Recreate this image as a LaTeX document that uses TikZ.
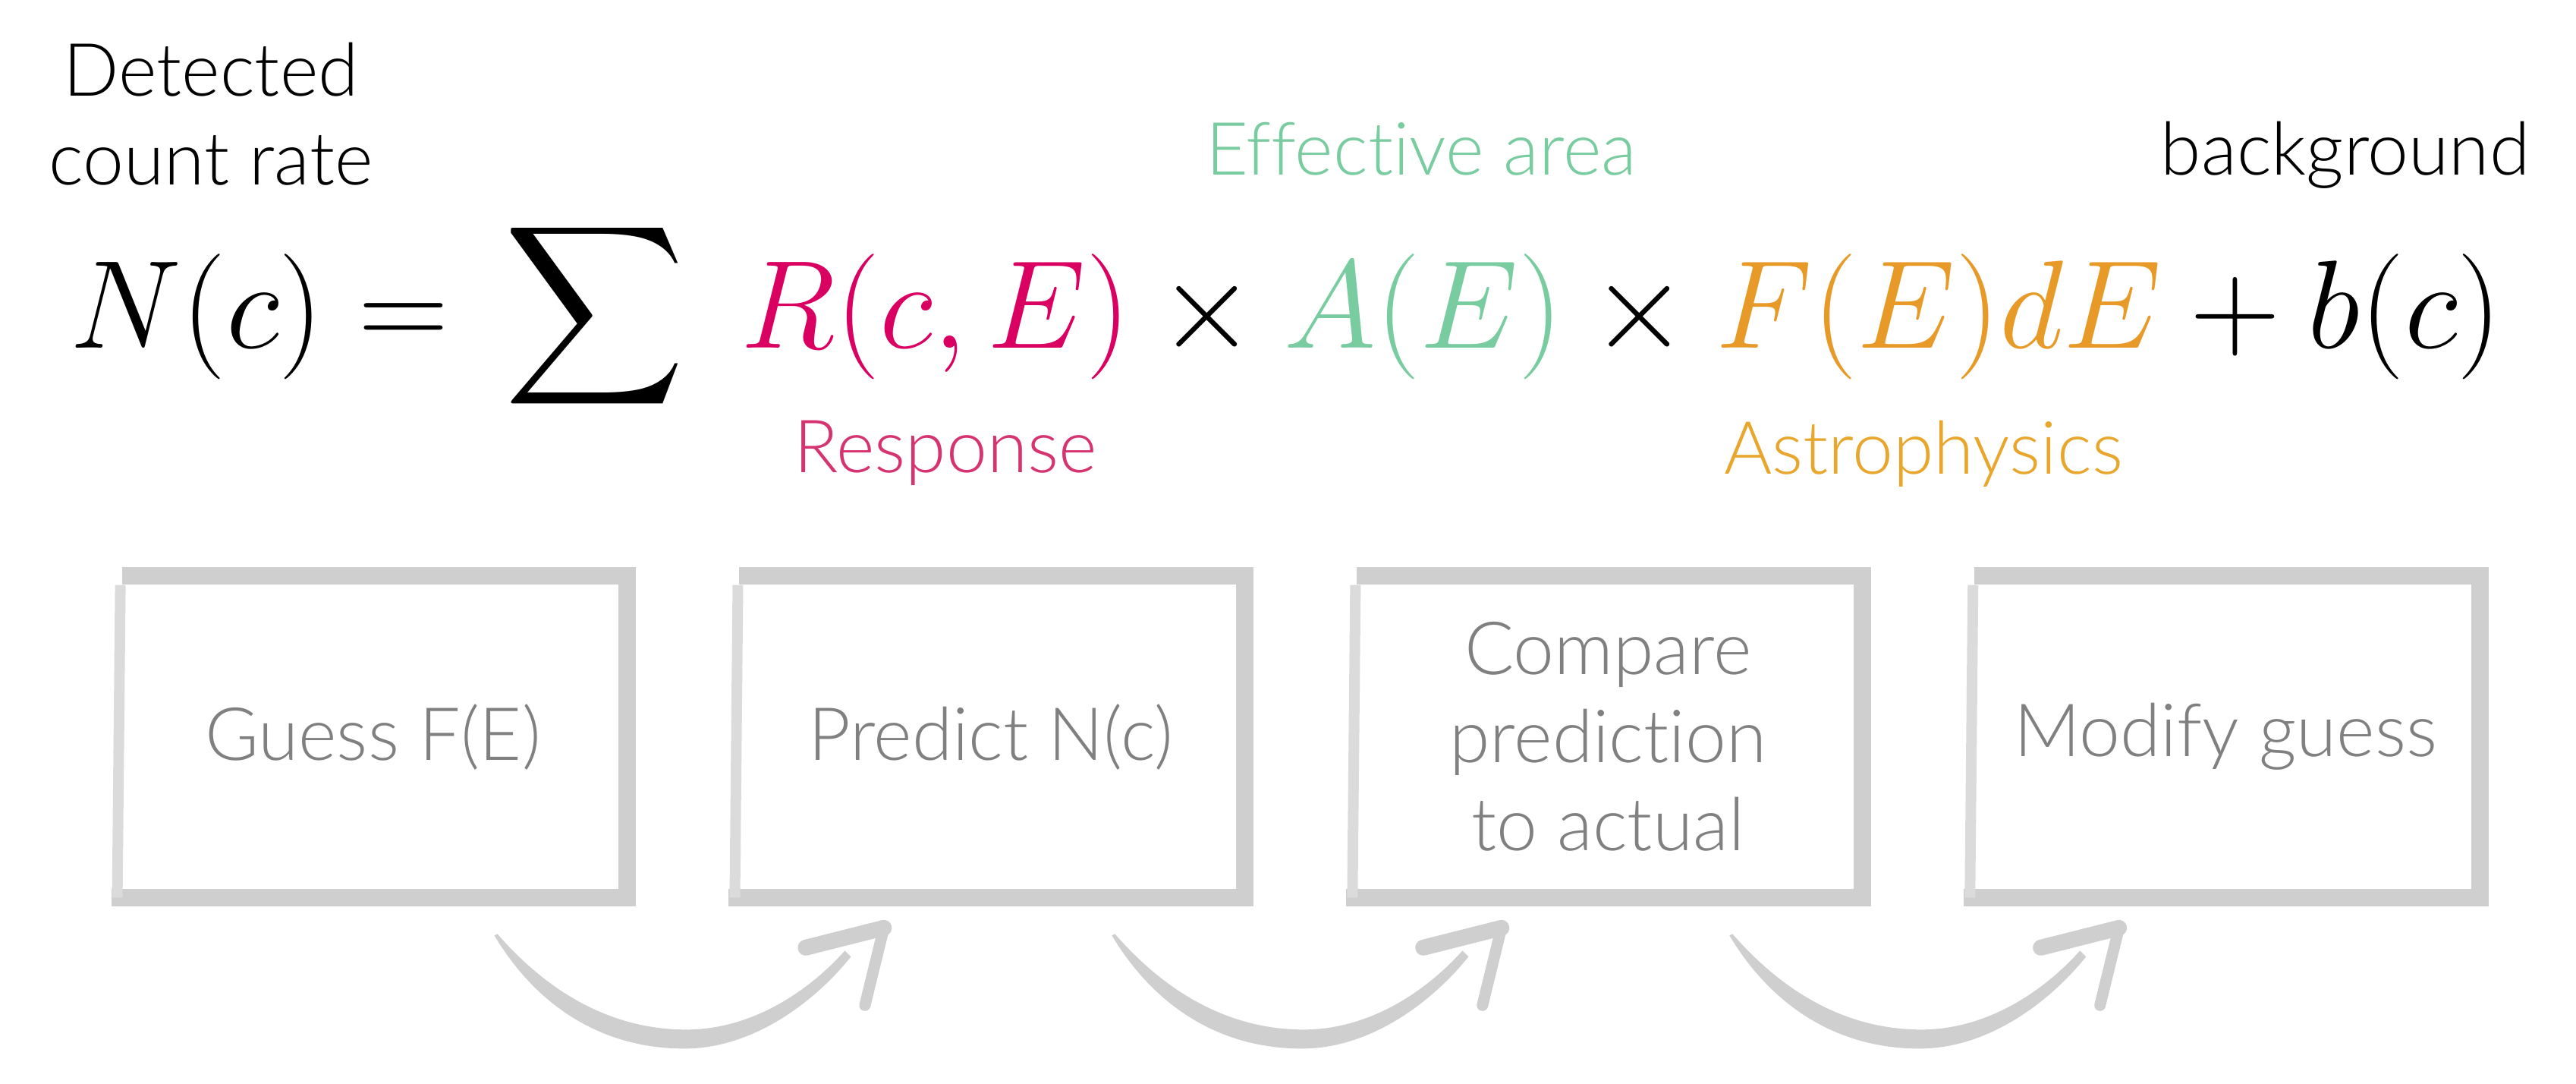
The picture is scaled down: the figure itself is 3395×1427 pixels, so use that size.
\RequirePackage{fix-cm}
\documentclass[tikz,border=0pt]{standalone}
\usepackage{amsmath}
\usepackage[no-math]{fontspec}
\setmainfont{Lato Light}[Ligatures=NoCommon]
\usepackage{tikz}
\usetikzlibrary{positioning,calc}
\DeclareFontShape{OMX}{cmex}{m}{n}{<->cmex10}{}

\definecolor{boxgray}{RGB}{207,207,207}
\definecolor{textgray}{RGB}{128,128,128}
\definecolor{respred}{RGB}{218,0,98}
\definecolor{resplabel}{RGB}{214,52,112}
\definecolor{effgreen}{RGB}{121,204,160}
\definecolor{astroorange}{RGB}{232,154,40}
\definecolor{astrolabel}{RGB}{233,166,44}

\tikzset{
  lbl/.style={inner sep=0pt, align=center, font=\fontsize{27.5}{33}\selectfont},
  stepbox/.style={minimum width=6.68cm, minimum height=4.22cm, inner sep=0pt,
    align=center, text=textgray, font=\fontsize{27.5}{33}\selectfont},
  boxline/.style={draw=boxgray, line width=0.23cm},
}

\begin{document}
\begin{tikzpicture}[x=0.01cm, y=-0.01cm]
    \useasboundingbox (0,0) rectangle (3395,1427);

    % Labels round the formula
    \node[lbl, anchor=base] (det) at (278,243) {Detected\\count rate};
    \node[lbl, text=effgreen, anchor=base] (eff) at (1873,230) {Effective area};
    \node[lbl, anchor=base] (bkg) at (3091,230) {background};
    \node[lbl, text=resplabel, anchor=base] (resp) at (1246,622) {Response};
    \node[lbl, text=astrolabel, anchor=base] (astro) at (2535,624) {Astrophysics};

    % Formula
    \node[anchor=base west, inner sep=0pt, font=\fontsize{47}{56}\selectfont] (eq) at (92,458)
        {$\displaystyle N(c) = \,\sum\; {\color{respred}R(c,E)} \times {\color{effgreen}A(E)}
          \times {\color{astroorange}F(E)dE} + b(c)$};

    % Steps
    \node[stepbox] (g1) at (491.5,970.5) {Guess F(E)};
    \node[stepbox, right=1.44cm of g1] (g2) {Predict N(c)};
    \node[stepbox, right=1.44cm of g2] (g3) {Compare\\prediction\\to actual};
    \node[stepbox, right=1.44cm of g3] (g4) {Modify guess};

    % Sketchy frames: thick top, right, bottom, thin left
    \foreach \n in {1,...,4} {
        \draw[boxline] ([xshift=0.04cm]g\n.north west) -- (g\n.north east)
            -- (g\n.south east) -- ([xshift=-0.1cm]g\n.south west);
        \draw[boxline, line width=0.14cm, draw=boxgray!75]
            ([xshift=-0.02cm]g\n.south west) -- ([xshift=0.02cm, yshift=-0.12cm]g\n.north west);
    }

    % Curved arrows between steps
    \foreach \i/\j in {1/2,2/3,3/4} {
        \coordinate (a\i) at ($(g\i.south)+(160,50)$);
        \coordinate (b\i) at ($(g\j.south)+(-140.5,40)$);
        \begin{scope}[shift={(a\i)}]
            \fill[boxgray] (0,0) .. controls (60,100) and (150,150) .. (253,149)
                .. controls (340,148) and (420,90) .. (470,28) -- (462,20)
                .. controls (410,78) and (335,124) .. (253,124)
                .. controls (165,124) and (80,85) .. (4,-2) -- cycle;
        \end{scope}
        \draw[boxgray, line width=0.21cm, line cap=round] (b\i) -- ++(-103,26);
        \draw[boxgray, line width=0.15cm, line cap=round] (b\i) -- ++(-25,102);
    }
\end{tikzpicture}
\end{document}
